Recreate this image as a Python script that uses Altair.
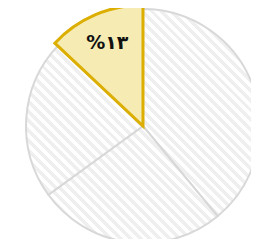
import math
import altair as alt
import pandas as pd

slices = ["a", "b", "c", "d"]
shares = [39, 26, 22, 13]
highlight = [0, 0, 0, 1]
labels = ["", "", "", "%۱۳"]

df = pd.DataFrame({"slice": slices, "share": shares, "hl": highlight, "label": labels})

R = 117
CX, CY = 135, 118


def slice_bbox(a0, a1):
    pts = [(0.0, 0.0)]
    angs = [a0, a1] + [k * 90 for k in range(5) if a0 < k * 90 < a1]
    for a in angs:
        t = math.radians(a)
        pts.append((R * math.sin(t), -R * math.cos(t)))
    xs = [p[0] for p in pts]
    ys = [p[1] for p in pts]
    return max(xs) - min(xs), max(ys) - min(ys)


def hatch(w, h, period=7.0):
    span = (w + h) / math.sqrt(2)
    n = max(1, round(span / period))
    stops = []
    for i in range(n):
        a, b, c = i / n, (i + 0.5) / n, (i + 1) / n
        stops += [{"offset": a, "color": "#ffffff"}, {"offset": b, "color": "#ffffff"},
                  {"offset": b, "color": "#efefef"}, {"offset": c, "color": "#efefef"}]
    k = (w + h) / (w * w + h * h)
    return {"gradient": "linear", "x1": 0, "y1": 1, "x2": k * w, "y2": 1 - k * h,
            "stops": stops}


tscale = alt.Scale(domain=[0, 100], range=[0, 2 * math.pi])

base = alt.Chart(df).transform_window(
    end="sum(share)", frame=[None, 0]
).transform_calculate(
    start="datum.end - datum.share", mid="datum.end - datum.share / 2"
)

layers = []
cum = 0
for s, v, h in zip(slices, shares, highlight):
    a0, a1 = cum * 3.6, (cum + v) * 3.6
    cum += v
    if h:
        continue
    w, hh = slice_bbox(a0, a1)
    layers.append(
        base.transform_filter(alt.datum.slice == s).mark_arc(
            radius=R, strokeWidth=2, stroke="#d8d8d8", fill=hatch(w, hh)
        ).encode(
            theta=alt.Theta("start:Q", scale=tscale), theta2="end:Q",
            x=alt.value(CX), y=alt.value(CY),
        )
    )

hl = base.transform_filter("datum.hl == 1").mark_arc(
    radius=R + 4, strokeWidth=3, stroke="#dcae00", fill="#f5ebb3", strokeJoin="miter"
).encode(
    theta=alt.Theta("start:Q", scale=tscale), theta2="end:Q",
    x=alt.value(CX), y=alt.value(CY),
)

text = base.transform_filter("datum.hl == 1").mark_text(
    radius=90, font="DejaVu Sans", fontSize=19, fontWeight="bold", color="#111111"
).encode(theta=alt.Theta("mid:Q", scale=tscale), text="label:N",
         x=alt.value(CX), y=alt.value(CY))

chart = alt.layer(*layers, hl, text).properties(
    width=243, height=231, padding=0,
    autosize=alt.AutoSizeParams(type="none"),
    background="white",
).configure_view(stroke=None)

chart.save("out.html", embed_options={"renderer": "svg", "actions": False})
